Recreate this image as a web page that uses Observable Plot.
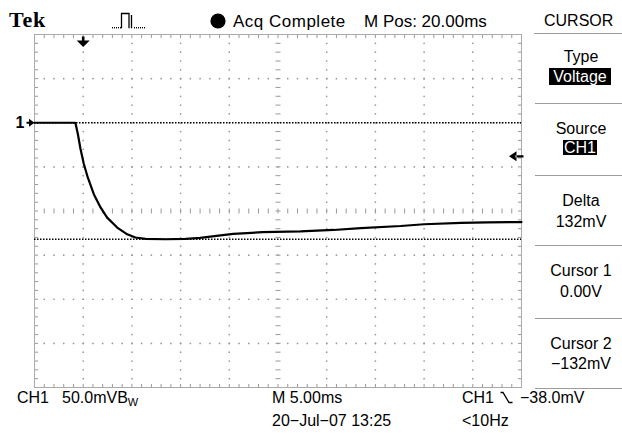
<!DOCTYPE html>
<html><head><meta charset="utf-8">
<script src="https://cdn.jsdelivr.net/npm/d3@7"></script>
<script src="https://cdn.jsdelivr.net/npm/@observablehq/plot@0.6"></script>
<style>
html,body{margin:0;padding:0;background:#fff;}
#scope{position:relative;width:622px;height:433px;overflow:hidden;font-family:"Liberation Sans",Arial,sans-serif;color:#000;background:#fff;}
#scope > svg{position:absolute;left:0;top:0;}
.lbl{position:absolute;white-space:nowrap;line-height:1;}
.sep{position:absolute;height:1px;background:#9c9c9c;}
.inv{position:absolute;background:#000;color:#fff;text-align:center;white-space:nowrap;}
</style></head><body><div id="scope"></div>
<script>
// ---- data (time in ms relative to trigger, voltage in mV) ----
const timeMs  = [-5, -0.8, -0.55, -0.28, 0.06, 0.47, 1.09, 1.78, 2.46, 3.49, 4.52, 5.37, 6.4, 8.45, 10.5, 12.0, 13.9, 15.4, 18.4, 22.3, 25.7, 28.5, 32.6, 35.0, 38.8, 41.5, 45];
const traceMv = [0, 0, -12.8, -29.5, -46.5, -62, -81, -96, -107.5, -118.8, -126.4, -130, -131.5, -132, -131.5, -130.5, -128, -126, -124, -123, -121.5, -119.5, -117, -115, -113.5, -113, -112.5];
const cursorLevelsMv = [0, -132];
const groundLevelMv = [0];
const triggerTimeMs = [0];
const triggerLevelMv = [-38];
const xDivisions = [-5, 0, 5, 10, 15, 20, 25, 30, 35, 40, 45];
const yDivisions = [100, 50, 0, -50, -100, -150, -200, -250, -300];
const centerTimeMs = 20;
const centerLevelMv = -100;
const minorTimeStep = 1;   // 5 ms/div, 5 minor
const minorLevelStep = 10; // 50 mV/div, 5 minor

const trace = timeMs.map((t, i) => ({t, v: traceMv[i]}));
const xMin = xDivisions[0], xMax = xDivisions[xDivisions.length - 1];
const yMax = yDivisions[0], yMin = yDivisions[yDivisions.length - 1];
const xMinor = d3.range(xMin, xMax + 1e-9, minorTimeStep);
const yMinor = d3.range(yMin, yMax + 1e-9, minorLevelStep);

const gridDots = [];
for (const v of yDivisions) if (v !== yMax && v !== yMin && v !== centerLevelMv)
  for (const t of xMinor) if (t !== xMin && t !== xMax) gridDots.push({t, v});
for (const t of xDivisions) if (t !== xMin && t !== xMax && t !== centerTimeMs)
  for (const v of yMinor) if (v !== yMin && v !== yMax) gridDots.push({t, v});

const seg = (x1, y1, x2, y2) => ({draw(ctx) { ctx.moveTo(x1, y1); ctx.lineTo(x2, y2); }});
const vTick = seg(0, -2.5, 0, 2.5), hTick = seg(-2.5, 0, 2.5, 0);
const topTick = seg(0, 0, 0, 3.5), bottomTick = seg(0, 0, 0, -3.5);
const leftTick = seg(0, 0, 3.5, 0), rightTick = seg(0, 0, -3.5, 0);
const arrowDown = {draw(ctx) {
  ctx.rect(-1.3, 2, 2.6, 4.5);
  ctx.moveTo(-6.5, 6); ctx.lineTo(6.5, 6); ctx.lineTo(0, 12.5); ctx.closePath();
}};
const arrowRight = {draw(ctx) {
  ctx.rect(-8, -1, 3, 2);
  ctx.moveTo(-5.5, -4); ctx.lineTo(0, 0); ctx.lineTo(-5.5, 4); ctx.closePath();
}};
const arrowLeft = {draw(ctx) {
  ctx.rect(-6, -1.1, 8, 2.2);
  ctx.moveTo(-5, -5); ctx.lineTo(-12.5, 0); ctx.lineTo(-5, 5); ctx.closePath();
}};

const G = "#999999";
const chart = Plot.plot({
  width: 622, height: 433,
  marginLeft: 34, marginRight: 101, marginTop: 34, marginBottom: 46,
  x: {domain: [xMin, xMax], axis: null},
  y: {domain: [yMin, yMax], axis: null},
  style: {background: "transparent", overflow: "visible"},
  marks: [
    Plot.dot(gridDots, {x: "t", y: "v", r: 0.85, fill: G, stroke: "none"}),
    Plot.dot(xMinor, {x: d => d, y: () => centerLevelMv, symbol: vTick, fill: "none", stroke: G, strokeWidth: 1}),
    Plot.dot(yMinor, {x: () => centerTimeMs, y: d => d, symbol: hTick, fill: "none", stroke: G, strokeWidth: 1}),
    Plot.dot(xMinor, {x: d => d, y: () => yMax, symbol: topTick, fill: "none", stroke: G, strokeWidth: 1}),
    Plot.dot(xMinor, {x: d => d, y: () => yMin, symbol: bottomTick, fill: "none", stroke: G, strokeWidth: 1}),
    Plot.dot(yMinor, {x: () => xMin, y: d => d, symbol: leftTick, fill: "none", stroke: G, strokeWidth: 1}),
    Plot.dot(yMinor, {x: () => xMax, y: d => d, symbol: rightTick, fill: "none", stroke: G, strokeWidth: 1}),
    Plot.frame({stroke: "#aaaaaa"}),
    Plot.ruleY(cursorLevelsMv, {stroke: "#000", strokeWidth: 1.5, strokeDasharray: "1.5 1.5"}),
    Plot.line(trace, {x: "t", y: "v", stroke: "#000", strokeWidth: 2.2, strokeLinejoin: "miter"}),
    Plot.dot(triggerTimeMs, {x: d => d, frameAnchor: "top", symbol: arrowDown, fill: "#000", stroke: "none"}),
    Plot.dot(groundLevelMv, {y: d => d, frameAnchor: "left", symbol: arrowRight, fill: "#000", stroke: "none"}),
    Plot.text(groundLevelMv, {y: d => d, frameAnchor: "left", text: () => "1", dx: -14.5, dy: 0.5, fontSize: 16, fontWeight: "bold", fill: "#000", textAnchor: "middle", fontFamily: "Liberation Sans, Arial"}),
    Plot.dot(triggerLevelMv, {y: d => d, frameAnchor: "right", symbol: arrowLeft, fill: "#000", stroke: "none"})
  ]
});
const scope = document.getElementById("scope");
scope.appendChild(chart);

// ---- on-screen readouts ----
function lbl(text, x, baseline, fs, extra) {
  const d = document.createElement("div");
  d.className = "lbl";
  d.textContent = text;
  d.style.fontSize = fs + "px";
  d.style.left = x + "px";
  d.style.top = (baseline - 0.847 * fs) + "px";
  if (extra) Object.assign(d.style, extra);
  scope.appendChild(d);
  return d;
}
function center(text, baseline, fs) {
  return lbl(text, 540, baseline, fs, {width: "82px", textAlign: "center"});
}
function sep(y, x1, x2) {
  const d = document.createElement("div");
  d.className = "sep";
  d.style.top = y + "px"; d.style.left = x1 + "px"; d.style.width = (x2 - x1) + "px";
  scope.appendChild(d);
}
function inv(text, x, y, w, h, fs) {
  const d = document.createElement("div");
  d.className = "inv";
  d.textContent = text;
  Object.assign(d.style, {left: x + "px", top: y + "px", width: w + "px", height: h + "px", lineHeight: h + "px", fontSize: fs + "px"});
  scope.appendChild(d);
}
function icon(svg, x, y, w, h) {
  const d = document.createElement("div");
  d.style.position = "absolute"; d.style.left = x + "px"; d.style.top = y + "px";
  d.innerHTML = `<svg width="${w}" height="${h}" viewBox="0 0 ${w} ${h}">${svg}</svg>`;
  scope.appendChild(d);
}

const header = {brand: "Tek", status: "Acq Complete", mpos: "M Pos: 20.00ms", menu: "CURSOR"};
const menu = [["Type", "Voltage"], ["Source", "CH1"], ["Delta", "132mV"], ["Cursor 1", "0.00V"], ["Cursor 2", "\u2212132mV"]];
const footer = {ch: "CH1", scale: "50.0mV", timebase: "M 5.00ms", date: "20\u2212Jul\u221207 13:25", trig: "CH1", trigLevel: "\u221238.0mV", freq: "<10Hz"};

lbl(header.brand, 9, 27.5, 22, {fontFamily: "'Liberation Serif','Times New Roman',serif", fontWeight: "bold", letterSpacing: "0.8px"});
icon(`<g fill="#000">${[1,3,5,7,9].map(x => `<rect x="${x}" y="15" width="1" height="1.4"/>`).join("")}${[23,25,27,29,31,33].map(x => `<rect x="${x}" y="15" width="1" height="1.4"/>`).join("")}</g>
  <path d="M10.5 16.2 V1.5 H18 V16.2 M20.5 3 V16.2" fill="none" stroke="#000" stroke-width="1.3"/>`, 111, 12, 36, 18);
icon(`<circle cx="8" cy="8" r="7.6" fill="#000"/>`, 210, 12.5, 16, 16);
lbl(header.status, 233, 27, 17, {letterSpacing: "0.5px"});
lbl(header.mpos, 364, 27, 17);
lbl(header.menu, 544, 27, 16);
sep(33, 534, 622);

center(menu[0][0], 63, 16);
inv(menu[0][1], 549, 68, 62, 17, 16);
sep(103, 535, 622);
center(menu[1][0], 135, 16);
inv(menu[1][1], 563, 140, 34, 15, 16);
sep(175, 535, 622);
center(menu[2][0], 207, 16); center(menu[2][1], 228, 16);
sep(245, 535, 622);
center(menu[3][0], 277, 16); center(menu[3][1], 298, 16);
sep(318, 535, 622);
center(menu[4][0], 350, 16); center(menu[4][1], 370, 16);
sep(388, 535, 622);

lbl(footer.ch, 17, 404, 16);
const sc = lbl(footer.scale, 62, 404, 16);
sc.innerHTML = footer.scale + 'B<span style="font-size:11px;position:relative;top:3px;">W</span>';
lbl(footer.timebase, 272, 404, 16);
lbl(footer.date, 272, 427, 16);
lbl(footer.trig, 462, 404, 16);
icon(`<path d="M0.5 1.5 H3 L9 11.5 H12.5" fill="none" stroke="#000" stroke-width="1.3"/>`, 500, 391, 14, 14);
lbl(footer.trigLevel, 520, 404, 16);
lbl(footer.freq, 462, 427, 16);
</script></body></html>
